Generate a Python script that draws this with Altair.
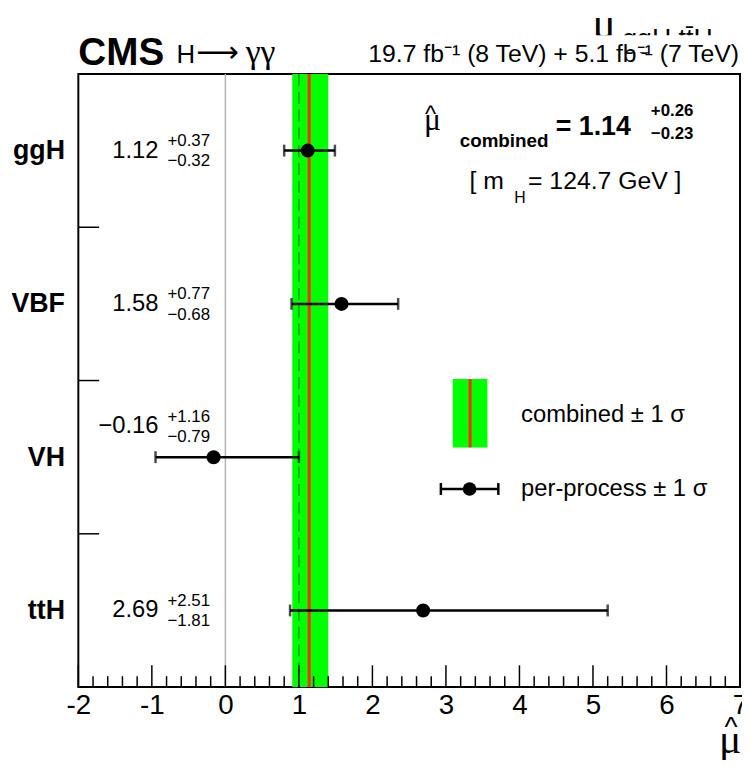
import altair as alt
import pandas as pd

# ---- data ----
processes = ["ggH", "VBF", "VH", "ttH"]
mu_vals = [1.12, 1.58, -0.16, 2.69]
err_up = [0.37, 0.77, 1.16, 2.51]
err_dn = [0.32, 0.68, 0.79, 1.81]
row_pos = [3.5, 2.5, 1.5, 0.5]          # category centre on the y scale
label_row = [3.5, 2.5, 1.70, 0.5]       # where the numeric label sits
separators = [1, 2, 3]
comb_mu = 1.14
comb_up = 0.26
comb_dn = 0.23
x_major = [-2, -1, 0, 1, 2, 3, 4, 5, 6, 7]
x_minor = [round(-2 + 0.2 * i, 1) for i in range(46) if i % 5 != 0]

W, H = 668, 619
FONT = "Liberation Sans"
SERIF = "Liberation Serif"

df = pd.DataFrame({
    "proc": processes,
    "mu": mu_vals,
    "lo": [m - d for m, d in zip(mu_vals, err_dn)],
    "hi": [m + u for m, u in zip(mu_vals, err_up)],
    "y": row_pos,
    "ly": label_row,
    "val": [("−" if m < 0 else "") + f"{abs(m):.2f}" for m in mu_vals],
    "up": [f"+{u:.2f}" for u in err_up],
    "dn": [f"−{d:.2f}" for d in err_dn],
})
comb = pd.DataFrame({"lo": [comb_mu - comb_dn], "hi": [comb_mu + comb_up], "mu": [comb_mu]})

xs = alt.Scale(domain=[-2, 7], nice=False, zero=False)
ys = alt.Scale(domain=[0, 4], nice=False, zero=False)

xaxis = alt.Axis(values=x_major, labelExpr="datum.value", ticks=False, domain=False, grid=False,
                 labelFontSize=28, labelFont=FONT, labelColor="black", labelPadding=5,
                 labelFlush=False, title=None)
yaxis = alt.Axis(values=row_pos,
                 labelExpr="datum.value==3.5?'ggH':datum.value==2.5?'VBF':datum.value==1.5?'VH':'ttH'",
                 ticks=False, domain=False, grid=False, labelFontSize=27, labelFont=FONT,
                 labelFontWeight="bold", labelColor="black", labelPadding=14, title=None)

band = alt.Chart(comb).mark_rect(color="#00ff00").encode(
    x=alt.X("lo:Q", scale=xs, axis=xaxis), x2="hi:Q",
    y=alt.value(0), y2=alt.value(H),
)
one_line = alt.Chart(pd.DataFrame({"x": [1.0]})).mark_rule(color="#10a010", strokeWidth=1.5, strokeDash=[12, 6]).encode(
    x=alt.X("x:Q", scale=xs), y=alt.value(0), y2=alt.value(H))
zero_line = alt.Chart(pd.DataFrame({"x": [0.0]})).mark_rule(color="#b4b4b4", strokeWidth=1.5).encode(
    x=alt.X("x:Q", scale=xs), y=alt.value(0), y2=alt.value(H))
red_line = alt.Chart(comb).mark_rule(color="#ff2a00", strokeWidth=3).encode(
    x=alt.X("mu:Q", scale=xs), y=alt.value(0), y2=alt.value(H))

base = alt.Chart(df)
bars = base.mark_rule(color="black", strokeWidth=2.5).encode(
    x=alt.X("lo:Q", scale=xs), x2="hi:Q", y=alt.Y("y:Q", scale=ys, axis=yaxis))
cap_lo = base.mark_tick(color="black", orient="vertical", size=12, thickness=2.5).encode(
    x=alt.X("lo:Q", scale=xs), y=alt.Y("y:Q", scale=ys))
cap_hi = base.mark_tick(color="black", orient="vertical", size=12, thickness=2.5).encode(
    x=alt.X("hi:Q", scale=xs), y=alt.Y("y:Q", scale=ys))
dots = base.mark_circle(color="black", opacity=1, size=200).encode(
    x=alt.X("mu:Q", scale=xs), y=alt.Y("y:Q", scale=ys))

vals = base.mark_text(font=FONT, fontSize=24, align="right", baseline="middle", color="black").encode(
    x=alt.value(81), y=alt.Y("ly:Q", scale=ys), text="val:N")
ups = base.mark_text(font=FONT, fontSize=17, align="left", baseline="middle", color="black", dy=-10).encode(
    x=alt.value(90), y=alt.Y("ly:Q", scale=ys), text="up:N")
dns = base.mark_text(font=FONT, fontSize=17, align="left", baseline="middle", color="black", dy=11).encode(
    x=alt.value(90), y=alt.Y("ly:Q", scale=ys), text="dn:N")

# axis ticks drawn inside the frame
maj = alt.Chart(pd.DataFrame({"x": x_major})).mark_rule(color="black", strokeWidth=1.5).encode(
    x=alt.X("x:Q", scale=xs), y=alt.value(H), y2=alt.value(H - 22))
mino = alt.Chart(pd.DataFrame({"x": x_minor})).mark_rule(color="black", strokeWidth=1.5).encode(
    x=alt.X("x:Q", scale=xs), y=alt.value(H), y2=alt.value(H - 11))
ysep = alt.Chart(pd.DataFrame({"y": separators})).mark_rule(color="black", strokeWidth=1.5).encode(
    y=alt.Y("y:Q", scale=ys), x=alt.value(0), x2=alt.value(21))

one = pd.DataFrame({"a": [0]})


def ann(text, x, y, size, weight="normal", align="left", font=FONT, baseline="alphabetic"):
    return alt.Chart(one).mark_text(text=text, font=font, fontSize=size, fontWeight=weight,
                                    align=align, baseline=baseline, color="black").encode(
        x=alt.value(x), y=alt.value(y))


# legend samples
leg_rect = alt.Chart(one).mark_rect(color="#00ff00").encode(
    x=alt.value(378), x2=alt.value(413), y=alt.value(308), y2=alt.value(377))
leg_red = alt.Chart(one).mark_rule(color="#ff2a00", strokeWidth=3).encode(
    x=alt.value(395.5), y=alt.value(308), y2=alt.value(377))
leg_bar = alt.Chart(one).mark_rule(color="black", strokeWidth=2.5).encode(
    x=alt.value(366), x2=alt.value(424), y=alt.value(419))
leg_c1 = alt.Chart(one).mark_rule(color="black", strokeWidth=2.5).encode(
    x=alt.value(366), y=alt.value(413), y2=alt.value(425))
leg_c2 = alt.Chart(one).mark_rule(color="black", strokeWidth=2.5).encode(
    x=alt.value(424), y=alt.value(413), y2=alt.value(425))
leg_dot = alt.Chart(one).mark_circle(color="black", opacity=1, size=190).encode(
    x=alt.value(395), y=alt.value(419))

# clipped top-right label (lower part hidden as in the reference)
mask = alt.Chart(one).mark_rect(color="white").encode(
    x=alt.value(505), x2=alt.value(640), y=alt.value(-39), y2=alt.value(-22))

texts = [
    ann("μ", 519, -36, 44, font=SERIF),
    ann("ggH tt̄H", 549, -26, 27),
    mask,
    ann("CMS", 0, -9, 39, weight="bold"),
    ann("H", 99, -11, 26),
    ann("⟶", 119, -12, 30, font="DejaVu Sans"),
    ann("γγ", 169, -11, 34, font=SERIF),
    ann("19.7 fb⁻¹ (8 TeV) + 5.1 fb⁻¹ (7 TeV)", 667, -12, 25, align="right"),
    # combined value
    ann("μ", 349, 57, 32, font=SERIF),
    ann("^", 350, 48, 24, font=FONT),
    ann("combined", 385, 74, 19, weight="bold"),
    ann("= 1.14", 482, 62, 27, weight="bold"),
    ann("+0.26", 578, 37, 17, weight="bold", baseline="middle"),
    ann("−0.23", 578, 61, 17, weight="bold", baseline="middle"),
    ann("[ m", 395, 116, 25),
    ann("H", 440, 130, 16),
    ann("= 124.7 GeV ]", 454, 116, 25),
    # legend texts
    ann("combined ± 1 σ", 447, 344, 24, baseline="middle"),
    ann("per-process ± 1 σ", 447, 419, 24, baseline="middle"),
    # x axis title
    ann("μ", 658, 686, 42, font=SERIF, align="center"),
    ann("^", 659, 668, 28, font=FONT, align="center"),
]

chart = alt.layer(
    band, one_line, red_line, zero_line, maj, mino, ysep,
    bars, cap_lo, cap_hi, dots, vals, ups, dns,
    leg_rect, leg_red, leg_bar, leg_c1, leg_c2, leg_dot,
    *texts,
).properties(
    width=W, height=H,
    autosize=alt.AutoSizeParams(type="none"),
    padding={"left": 71, "top": 63, "right": 2, "bottom": 70},
    background="white",
).configure_view(stroke="black", strokeWidth=2).configure_axis(labelColor="black")

chart.save("out.html", embed_options={"renderer": "svg", "actions": False})
